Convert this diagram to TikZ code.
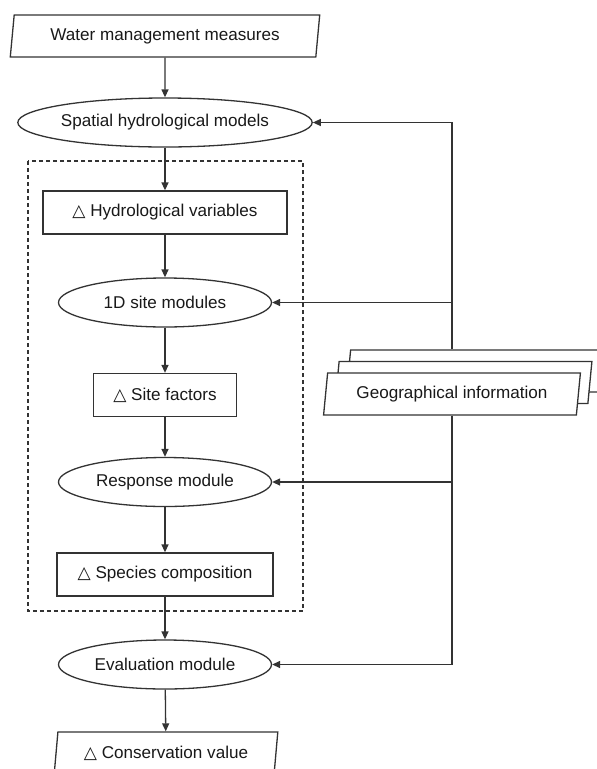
\documentclass[tikz,border=0pt]{standalone}
\usepackage{fontspec}
\setmainfont{Liberation Sans}
\newfontfamily\symfont{DejaVu Sans}
\usetikzlibrary{shapes.geometric,shadows,arrows.meta}
\newcommand{\dtri}{{\symfont\char"25B3}}

\tikzset{
  every node/.style={font=\fontsize{17.1}{20}\selectfont,text=black!90},
  flow/.style={draw=black!80,line width=1.3pt,-{Triangle[length=8pt,width=7pt]}},
  module/.style={ellipse,draw=black!80,line width=1.3pt,fill=white,inner sep=0pt,minimum width=213pt,minimum height=49pt},
  varbox/.style={rectangle,draw=black!80,line width=1.3pt,fill=white,inner sep=0pt,minimum height=43pt},
  datain/.style={trapezium,trapezium left angle=79,trapezium right angle=101,trapezium stretches=true,
    draw=black!80,line width=1.3pt,fill=white,inner sep=0pt,minimum height=42pt},
  cardcopy/.style={general shadow={shadow xshift=#1,shadow yshift=#1,fill=white,draw=black!80}}
}

\begin{document}
\begin{tikzpicture}[x=1pt,y=-1pt]
  \useasboundingbox (0,0) rectangle (597,769);
  % site scale part of the model chain
  \draw[black!80,line width=1.2pt,dash pattern=on 4pt off 3pt] (28,161) rectangle (303,611);

  \node[datain,minimum width=310pt] (measures) at (165,36) {Water management measures};
  \node[module,minimum width=279pt] (hydromodel) at (165,122.5) {Spatial hydrological models};
  \node[varbox,minimum width=244pt] (hydrovar) at (165,212.5) {\dtri\ Hydrological variables};
  \node[module] (sitemod) at (165,302.5) {1D site modules};
  \node[varbox,minimum width=143pt] (sitefac) at (165,395) {\dtri\ Site factors};
  \node[module] (response) at (165,482) {Response module};
  \node[varbox,minimum width=216pt] (species) at (165,574.5) {\dtri\ Species composition};
  \node[module] (evaluation) at (165,664.5) {Evaluation module};
  \node[datain,minimum width=224pt] (conservation) at (166,753) {\dtri\ Conservation value};

  \node[datain,minimum width=257pt,cardcopy=23pt,cardcopy=11.5pt] (geoinfo) at (452,394) {Geographical information};
  \coordinate (geotop) at ([yshift=23pt]geoinfo.north);

  \draw[flow] (measures) -- (hydromodel);
  \draw[flow] (hydromodel) -- (hydrovar);
  \draw[flow] (hydrovar) -- (sitemod);
  \draw[flow] (sitemod) -- (sitefac);
  \draw[flow] (sitefac) -- (response);
  \draw[flow] (response) -- (species);
  \draw[flow] (species) -- (evaluation);
  \draw[flow] (evaluation) -- (conservation);

  \draw[flow] (geotop) |- (hydromodel.east);
  \draw[flow] (geotop) |- (sitemod.east);
  \draw[flow] (geoinfo.south) |- (response.east);
  \draw[flow] (geoinfo.south) |- (evaluation.east);
\end{tikzpicture}
\end{document}
